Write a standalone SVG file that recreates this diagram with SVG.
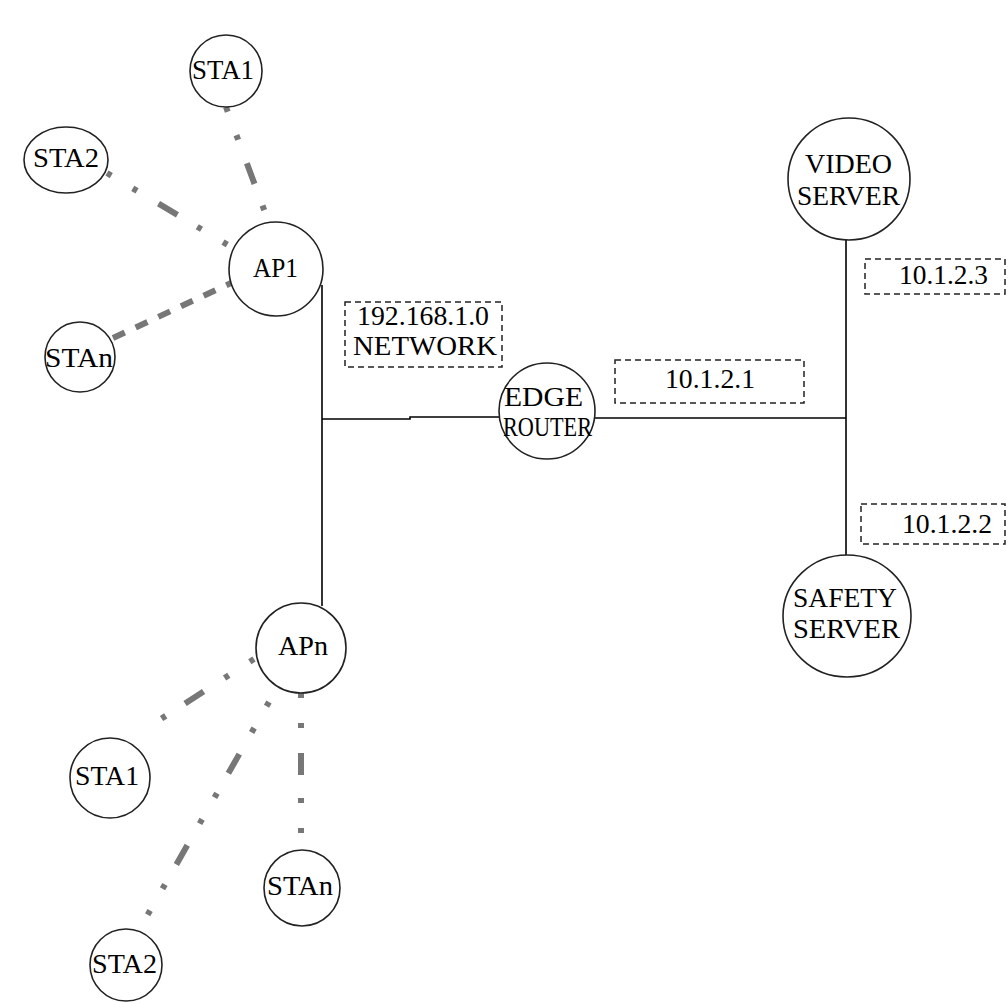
<svg xmlns="http://www.w3.org/2000/svg" width="1008" height="1003" viewBox="0 0 1008 1003">
<style>
.node{fill:#fff;stroke:#222;stroke-width:1.6}
.t{font-family:"Liberation Serif","Times New Roman",serif;font-size:28px;fill:#000}
.box{fill:none;stroke:#222;stroke-width:1.5;stroke-dasharray:6 4}
.wire{fill:none;stroke:#000;stroke-width:1.6}
.wl{fill:none;stroke:#777;stroke-width:6;stroke-dasharray:5 25 5 25 22 23}
.wl2{fill:none;stroke:#777;stroke-width:6;stroke-dasharray:13 12}
</style>
<rect width="1008" height="1003" fill="#fff"/>
<g id="connectors">
<line class="wl" x1="226" y1="107" x2="269" y2="223"/>
<line class="wl" x1="107" y1="173" x2="238" y2="251"/>
<line class="wl2" x1="113" y1="338" x2="231" y2="283"/>
<polyline class="wire" points="322,285 322,606"/>
<polyline class="wire" points="322,419 410,419 410,417 500,417"/>
<line class="wire" x1="595" y1="418" x2="846" y2="418"/>
<line class="wire" x1="846" y1="239" x2="846" y2="556"/>
<line class="wl" x1="254" y1="659" x2="150" y2="726"/>
<line class="wl" x1="269" y1="702" x2="139" y2="930"/>
<line class="wl" x1="301" y1="693" x2="301" y2="850"/>
</g>
<g id="sta1-top"><circle class="node" cx="226" cy="71" r="36"/><text class="t" x="192" y="79" textLength="62" lengthAdjust="spacingAndGlyphs" font-size="29">STA1</text></g>
<g id="sta2-top"><ellipse class="node" cx="66" cy="160" rx="42" ry="33"/><text class="t" x="33" y="167" textLength="66" lengthAdjust="spacingAndGlyphs" font-size="29">STA2</text></g>
<g id="ap1"><circle class="node" cx="276" cy="269" r="47"/><text class="t" x="253" y="277" textLength="45" lengthAdjust="spacingAndGlyphs" font-size="25">AP1</text></g>
<g id="stan-top"><circle class="node" cx="80" cy="357" r="35"/><text class="t" x="45" y="367" textLength="68" lengthAdjust="spacingAndGlyphs" font-size="29">STAn</text></g>
<g id="net-label"><rect class="box" x="345" y="302" width="157" height="65"/><text class="t" x="357" y="325" textLength="132" lengthAdjust="spacingAndGlyphs">192.168.1.0</text><text class="t" x="353" y="355" textLength="144" lengthAdjust="spacingAndGlyphs">NETWORK</text></g>
<g id="edge-router"><circle class="node" cx="547" cy="411" r="48"/><text class="t" x="504" y="406" textLength="79" lengthAdjust="spacingAndGlyphs" font-size="29">EDGE</text><text class="t" x="503" y="436" textLength="89" lengthAdjust="spacingAndGlyphs" font-size="20">ROUTER</text></g>
<g id="label-10-1-2-1"><rect class="box" x="615" y="360" width="189" height="43"/><text class="t" x="665" y="388" textLength="90" lengthAdjust="spacingAndGlyphs">10.1.2.1</text></g>
<g id="video-server"><circle class="node" cx="849" cy="179" r="61"/><text class="t" x="805" y="173" textLength="87" lengthAdjust="spacingAndGlyphs" font-size="29">VIDEO</text><text class="t" x="797" y="205" textLength="103" lengthAdjust="spacingAndGlyphs">SERVER</text></g>
<g id="label-10-1-2-3"><rect class="box" x="865" y="259" width="140" height="35"/><text class="t" x="899" y="284" textLength="89" lengthAdjust="spacingAndGlyphs">10.1.2.3</text></g>
<g id="label-10-1-2-2"><rect class="box" x="861" y="504" width="144" height="40"/><text class="t" x="902" y="533" textLength="90" lengthAdjust="spacingAndGlyphs">10.1.2.2</text></g>
<g id="safety-server"><ellipse class="node" cx="847" cy="616" rx="64" ry="61"/><text class="t" x="793" y="607" textLength="104" lengthAdjust="spacingAndGlyphs" font-size="29">SAFETY</text><text class="t" x="793" y="638" textLength="107" lengthAdjust="spacingAndGlyphs">SERVER</text></g>
<g id="apn"><circle class="node" cx="301" cy="648" r="45"/><text class="t" x="278" y="655" textLength="50" lengthAdjust="spacingAndGlyphs">APn</text></g>
<g id="sta1-bottom"><circle class="node" cx="110" cy="778" r="40"/><text class="t" x="75" y="785" textLength="64" lengthAdjust="spacingAndGlyphs" font-size="29">STA1</text></g>
<g id="stan-bottom"><circle class="node" cx="302" cy="888" r="38"/><text class="t" x="267" y="895" textLength="66" lengthAdjust="spacingAndGlyphs" font-size="29">STAn</text></g>
<g id="sta2-bottom"><circle class="node" cx="126" cy="965" r="36"/><text class="t" x="92" y="973" textLength="65" lengthAdjust="spacingAndGlyphs" font-size="29">STA2</text></g>
</svg>
